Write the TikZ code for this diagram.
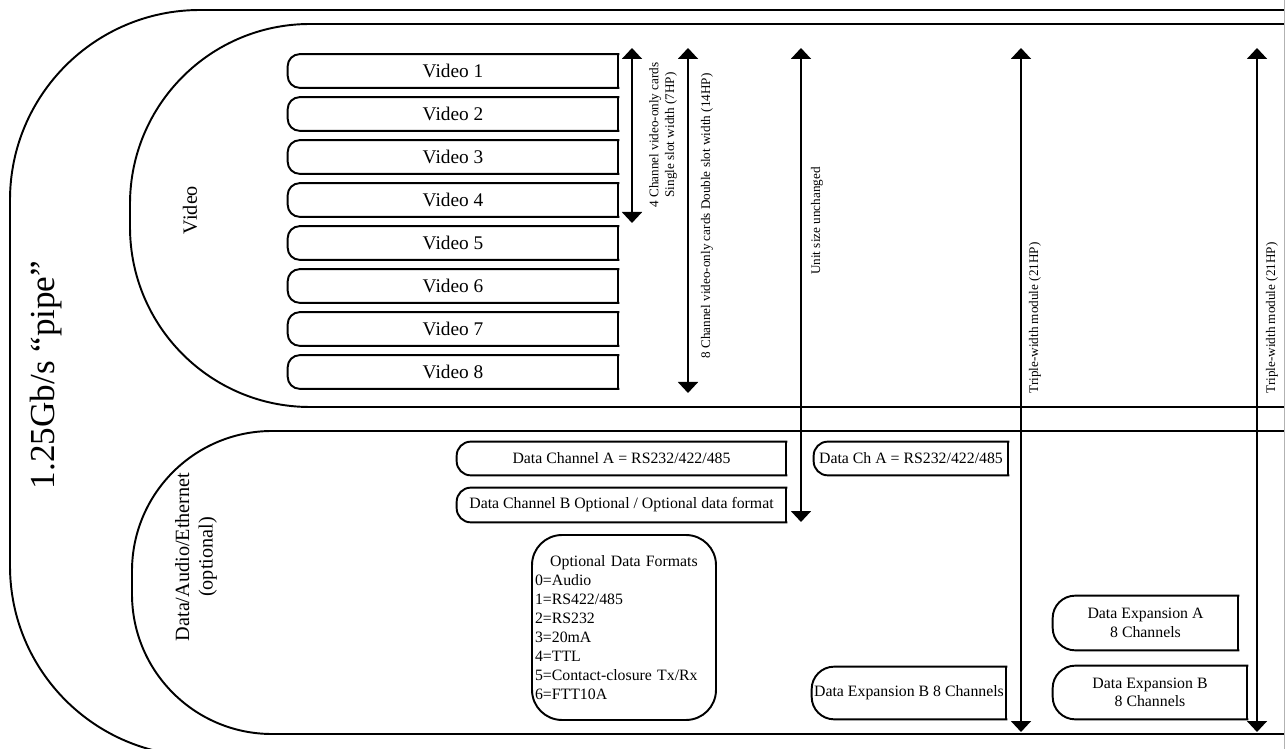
\documentclass[tikz,border=0pt]{standalone}
\usepackage{fontspec}
\setmainfont{Liberation Serif}
\usetikzlibrary{arrows.meta}

% box with round left end and square right end
\newcommand{\LeftRound}[2]{%
  \draw[cardline, rounded corners=#2] (#1.north east) -- (#1.north west) -- (#1.south west) -- (#1.south east);
  \draw[cardline] (#1.south east) -- (#1.north east);}

\tikzset{
  shapeline/.style={line width=1.1pt},
  cardline/.style={line width=1.1pt, line cap=rect},
  vidcard/.style={inner sep=0pt, minimum width=6.6cm, minimum height=0.66cm, font=\fontsize{11}{13}\selectfont},
  datacard/.style={inner sep=0pt, align=center, font=\fontsize{9}{10.5}\selectfont},
  sizearrow/.style={line width=1.1pt, {Triangle[width=0.4cm,length=0.22cm]}-{Triangle[width=0.4cm,length=0.22cm]}},
  note/.style={rotate=90, inner sep=0pt, align=center, font=\fontsize{7.5}{9}\selectfont},
  areatext/.style={rotate=90, inner sep=0pt, align=center, font=\fontsize{11.5}{13.5}\selectfont},
}

\begin{document}
\begin{tikzpicture}[x=0.02cm, y=-0.02cm]
    \useasboundingbox (0,0) rectangle (1285,749);
    % pipe, video area and data area
    \draw[shapeline, rounded corners=3.8cm] (1295,10) -- (10,10) -- (10,756) -- (1295,756);
    \draw[shapeline, rounded corners=3.6cm] (1295,24) -- (130,24) -- (130,407) -- (1295,407);
    \draw[shapeline, rounded corners=2.8cm] (1295,431) -- (132,431) -- (132,734) -- (1295,734);
    \draw[gray!60, line width=0.4pt] (1284,0) -- (1284,749);
    %
    \node[rotate=90, inner sep=0pt, font=\fontsize{20}{24}\selectfont] (pipe) at (46,375) {1.25Gb/s “pipe”};
    \node[areatext] (videoarea) at (190,210) {Video};
    \node[areatext] (dataarea) at (196,557) {Data/Audio/Ethernet\\(optional)};
    %
    \foreach \i in {1,...,8} {
      \node[vidcard] (video\i) at ({453},{71+43*(\i-1)}) {Video \i};
      \LeftRound{video\i}{0.24cm}
    }
    %
    \node[datacard, minimum width=6.58cm, minimum height=0.66cm] (chA) at (621.5,458.5) {Data Channel A = RS232/422/485};
    \node[datacard, minimum width=6.58cm, minimum height=0.68cm] (chB) at (621.5,505) {Data Channel B Optional / Optional data format};
    \node[datacard, minimum width=3.88cm, minimum height=0.66cm] (chAshort) at (911,458.5) {Data Ch A = RS232/422/485};
    \node[datacard, minimum width=3.88cm, minimum height=1.04cm] (expBwide) at (909,693) {Data Expansion B 8 Channels};
    \node[datacard, minimum width=3.7cm, minimum height=1.08cm] (expA) at (1145.5,623) {Data Expansion A\\8 Channels};
    \node[datacard, minimum width=3.88cm, minimum height=1.06cm] (expB) at (1150,692.5) {Data Expansion B\\8 Channels};
    \LeftRound{chA}{0.28cm}
    \LeftRound{chB}{0.28cm}
    \LeftRound{chAshort}{0.28cm}
    \LeftRound{expBwide}{0.45cm}
    \LeftRound{expA}{0.45cm}
    \LeftRound{expB}{0.45cm}
    %
    \node[draw, line width=1.1pt, rounded corners=0.6cm, minimum width=3.68cm, minimum height=3.7cm,
      text width=3.56cm, inner xsep=0.06cm, align=left, font=\fontsize{9}{10.8}\selectfont] (formats) at (624,627.5)
      {\makebox[3.56cm][c]{Optional Data Formats}\\0=Audio\\1=RS422/485\\2=RS232\\3=20mA\\4=TTL\\5=Contact-closure Tx/Rx\\6=FTT10A};
    %
    \coordinate (single top) at (632,48);   \coordinate (single bottom) at (632,223);
    \coordinate (double top) at (688,48);   \coordinate (double bottom) at (688,393);
    \coordinate (unit top) at (801,48);     \coordinate (unit bottom) at (801,522);
    \coordinate (tripleA top) at (1021,48); \coordinate (tripleA bottom) at (1021,732);
    \coordinate (tripleB top) at (1257,48); \coordinate (tripleB bottom) at (1257,732);
    \draw[sizearrow] (single top) -- (single bottom);
    \draw[sizearrow] (double top) -- (double bottom);
    \draw[sizearrow] (unit top) -- (unit bottom);
    \draw[sizearrow] (tripleA top) -- (tripleA bottom);
    \draw[sizearrow] (tripleB top) -- (tripleB bottom);
    %
    \node[note] (singletext) at (663,135) {4 Channel video-only cards\\Single slot width (7HP)};
    \node[note] (doubletext) at (707,216) {8 Channel video-only cards Double slot width (14HP)};
    \node[note] (unittext) at (817,221) {Unit size unchanged};
    \node[note] (tripleAtext) at (1035,318) {Triple-width module (21HP)};
    \node[note] (tripleBtext) at (1272,318) {Triple-width module (21HP)};
\end{tikzpicture}
\end{document}
